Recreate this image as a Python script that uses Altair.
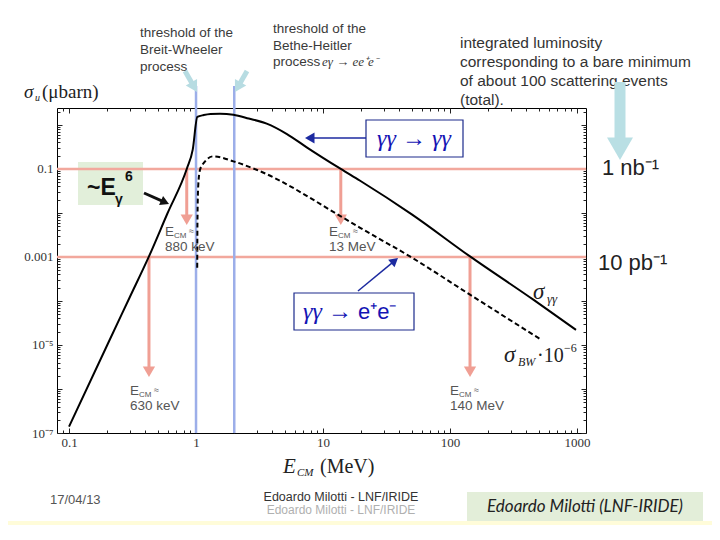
import math
import altair as alt
import pandas as pd

# ---------------- data ----------------
# sigma_gamma-gamma (micro-barn) vs E_CM (MeV)
gg_E = [0.1, 0.2, 0.3, 0.426, 0.594, 0.845, 0.942, 1.024, 1.15, 1.3, 1.545, 1.97, 2.6, 3.6, 5.2, 7.44, 13.8, 19.6, 50.0, 143.7, 453.0, 982.0]
gg_s = [1.4e-7, 1.0e-5, 1.2e-4, 1.03e-3, 9.6e-3, 0.1, 0.275, 1.52, 1.68, 1.78, 1.81, 1.71, 1.40, 1.07, 0.62, 0.31, 0.1, 0.054, 9.3e-3, 1.03e-3, 1.07e-4, 2.2e-5]
# sigma_BW * 1e-6
bw_E = [1.022, 1.026, 1.04, 1.075, 1.156, 1.37, 1.97, 3.0, 13.8, 19.6, 48.3, 143.7, 511.0]
bw_s = [5.7e-4, 6e-3, 0.04, 0.096, 0.139, 0.194, 0.149, 0.096, 8.4e-3, 4.6e-3, 1.03e-3, 1.39e-4, 1.37e-5]

lumi_levels = [0.1, 0.001]          # 1 nb^-1 and 10 pb^-1
threshold_E = [1.0, 2.0]            # Breit-Wheeler, Bethe-Heitler
arrow_E = [0.845, 13.8, 0.426, 143.7]
arrow_top = [0.1, 0.1, 0.001, 0.001]
arrow_head = [7.0e-3, 7.0e-3, 2.46e-6, 2.46e-6]

x_major = [0.1, 1, 10, 100, 1000]
x_minor = [m * 10.0 ** k for k in range(-2, 4) for m in range(2, 10) if 0.0804 <= m * 10.0 ** k <= 1177]
y_major = [10.0 ** k for k in range(-7, 1)]
y_minor = [m * 10.0 ** k for k in range(-7, 1) for m in range(2, 10) if m * 10.0 ** k <= 2.43]

# ---------------- helpers ----------------
OX, OY = 57, 108          # page position of the plot area
W, H = 529, 325
SERIF = "Liberation Serif"
SANS = "Liberation Sans"
CAL = "Lato"

xs = alt.Scale(type="log", domain=[0.0804, 1177], nice=False)
ys = alt.Scale(type="log", domain=[1e-7, 2.43], nice=False)

layers = []
one = pd.DataFrame({"a": [0]})


def px(X):
    return X - OX


def py(Y):
    return Y - OY


def text(X, Y, s, size=12, color="#333", font=SANS, style="normal", weight="normal",
         align="left", baseline="middle", lh=None):
    kw = dict(fontSize=size, color=color, font=font, fontStyle=style, fontWeight=weight,
              align=align, baseline=baseline, lineBreak="\n")
    if lh:
        kw["lineHeight"] = lh
    layers.append(alt.Chart(pd.DataFrame({"t": [s]})).mark_text(**kw).encode(
        x=alt.value(px(X)), y=alt.value(py(Y)), text="t:N"))


def rect(X1, Y1, X2, Y2, fill, stroke=None, sw=1):
    kw = dict(fill=fill)
    if stroke:
        kw.update(stroke=stroke, strokeWidth=sw)
    layers.append(alt.Chart(one).mark_rect(**kw).encode(
        x=alt.value(px(X1)), x2=alt.value(px(X2)), y=alt.value(py(Y1)), y2=alt.value(py(Y2))))


def arrow(X1, Y1, X2, Y2, color, width, head):
    dx, dy = X2 - X1, Y2 - Y1
    L = math.hypot(dx, dy)
    ux, uy = dx / L, dy / L
    h = head * 0.866
    cx, cy = X2 - ux * h * 0.5, Y2 - uy * h * 0.5
    ex, ey = X2 - ux * h * 0.7, Y2 - uy * h * 0.7
    layers.append(alt.Chart(one).mark_rule(color=color, strokeWidth=width).encode(
        x=alt.value(px(X1)), x2=alt.value(px(ex)), y=alt.value(py(Y1)), y2=alt.value(py(ey))))
    ang = math.degrees(math.atan2(dx, -dy)) % 360
    layers.append(alt.Chart(one).mark_point(shape="triangle-up", filled=True, color=color,
                                            opacity=1, size=head * head, angle=ang).encode(
        x=alt.value(px(cx)), y=alt.value(py(cy))))


# ---------------- background decorations ----------------
rect(8, 521, 712, 540, "#fffcd9")
rect(467, 492, 703, 521, "#e3eed9")
rect(78, 162, 143, 205, "#e2efda")

# ---------------- data layers ----------------
lvl = pd.DataFrame({"s": lumi_levels})
layers.append(alt.Chart(lvl).mark_rule(color="#f2a89d", strokeWidth=2.5).encode(
    y=alt.Y("s:Q", scale=ys, axis=None)))

thr = pd.DataFrame({"E": threshold_E})
layers.append(alt.Chart(thr).mark_rule(color="#9caee9", strokeWidth=2.5).encode(
    x=alt.X("E:Q", scale=xs, axis=None), y=alt.value(py(86)), y2=alt.value(H)))

arr = pd.DataFrame({"E": arrow_E, "top": arrow_top, "head": arrow_head})
layers.append(alt.Chart(arr).mark_rule(color="#f09f94", strokeWidth=3).encode(
    x=alt.X("E:Q", scale=xs, axis=None), y=alt.Y("top:Q", scale=ys, axis=None), y2="head:Q"))
layers.append(alt.Chart(arr).mark_point(shape="triangle-down", filled=True, color="#f09f94",
                                        opacity=1, size=150).encode(
    x=alt.X("E:Q", scale=xs, axis=None), y=alt.Y("head:Q", scale=ys, axis=None)))

gg = pd.DataFrame({"E": gg_E, "s": gg_s})
layers.append(alt.Chart(gg).mark_line(color="black", strokeWidth=2, interpolate="monotone").encode(
    x=alt.X("E:Q", scale=xs, axis=None), y=alt.Y("s:Q", scale=ys, axis=None)))
bw = pd.DataFrame({"E": bw_E, "s": bw_s})
layers.append(alt.Chart(bw).mark_line(color="black", strokeWidth=2, strokeDash=[5, 3],
                                      interpolate="monotone").encode(
    x=alt.X("E:Q", scale=xs, axis=None), y=alt.Y("s:Q", scale=ys, axis=None)))

# ---------------- axes (ticks inside, Mathematica style) ----------------
dummy = pd.DataFrame({"E": [1.0], "s": [0.1]})
common = dict(domain=False, grid=False, tickColor="#222", tickWidth=1, title=None,
              labelOverlap=False, labelFlush=False)
x_lab = "datum.value >= 1 ? format(datum.value, 'd') : format(datum.value, '.1f')"
e = "round(log(datum.value)/LN10)"
y_lab = (f"{e} == -1 ? '0.1' : {e} == -3 ? '0.001' : {e} == -5 ? '10⁻⁵' : "
         f"{e} == -7 ? '10⁻⁷' : ''")


def axlayer(xa, ya):
    return alt.Chart(dummy).mark_point(opacity=0).encode(
        x=alt.X("E:Q", scale=xs, axis=xa), y=alt.Y("s:Q", scale=ys, axis=ya))


layers.append(axlayer(
    alt.Axis(orient="bottom", values=x_major, tickSize=5, offset=-5, labelExpr=x_lab,
             labelFont=SERIF, labelFontSize=13, labelColor="#333", labelPadding=3, **common),
    alt.Axis(orient="left", values=y_major, tickSize=5, offset=-5, labelExpr=y_lab,
             labelFont=SERIF, labelFontSize=13, labelColor="#333", labelPadding=4, **common)))
layers.append(axlayer(
    alt.Axis(orient="bottom", values=x_minor, tickSize=3, offset=-3, labels=False, **common),
    alt.Axis(orient="left", values=y_minor, tickSize=3, offset=-3, labels=False, **common)))
layers.append(axlayer(
    alt.Axis(orient="top", values=x_major, tickSize=5, offset=-5, labels=False, **common),
    alt.Axis(orient="right", values=y_major, tickSize=5, offset=-5, labels=False, **common)))
layers.append(axlayer(
    alt.Axis(orient="top", values=x_minor, tickSize=3, offset=-3, labels=False, **common),
    alt.Axis(orient="right", values=y_minor, tickSize=3, offset=-3, labels=False, **common)))

# ---------------- axis titles ----------------
text(283, 473, "E", 21, "#222", SERIF, "italic", baseline="alphabetic")
text(297, 476, "CM", 11, "#222", SERIF, "italic", baseline="alphabetic")
text(320, 473, "(MeV)", 20, "#222", SERIF, baseline="alphabetic")
text(24, 98, "σ", 19, "#222", SERIF, "italic", baseline="alphabetic")
text(35, 101, "u", 10, "#222", SERIF, "italic", baseline="alphabetic")
text(42, 98, "(μbarn)", 19, "#222", SERIF, baseline="alphabetic")

# ---------------- E_CM annotations ----------------
for (X, Y, v) in [(165, 232, "880 keV"), (329, 232, "13 MeV"), (130, 391, "630 keV"), (450, 391, "140 MeV")]:
    text(X, Y, "E", 13.5, "#555")
    text(X + 9, Y + 4, "CM", 8, "#555")
    text(X + 24, Y - 1, "≈", 9, "#555")
    text(X, Y + 15, v, 13.5, "#555")

# ---------------- curve labels ----------------
text(533, 299, "σ", 23, "#222", SERIF, "italic", baseline="alphabetic")
text(547, 303, "γγ", 13, "#222", SERIF, "italic", baseline="alphabetic")
text(504, 362, "σ", 23, "#222", SERIF, "italic", baseline="alphabetic")
text(518, 366, "BW", 12, "#222", SERIF, "italic", baseline="alphabetic")
text(537, 362, "·10", 20, "#222", SERIF, baseline="alphabetic")
text(564, 352, "−6", 12, "#222", SERIF, baseline="alphabetic")

# ---------------- process boxes ----------------
rect(366, 120, 463, 157, "white", "#1c2a8c", 1.2)
text(414, 139, "γγ → γγ", 24, "#1414b4", SERIF, "italic", align="center")
arrow(366, 138, 305, 138, "#1c2aa0", 1.5, 11)
rect(294, 293, 414, 330, "white", "#1c2a8c", 1.2)
text(303, 312, "γγ →", 24, "#1414b4", SERIF, "italic")
text(358, 312, "e⁺e⁻", 22, "#1414b4", SANS)
arrow(358, 291, 398, 258, "#1c2aa0", 1.5, 10)

# ~E_gamma^6
text(87, 188, "~E", 23, "#111", SANS, weight="bold")
text(115, 200, "γ", 14, "#111", SANS, weight="bold")
text(125, 177, "6", 14, "#111", SANS, weight="bold")
arrow(144, 193, 169, 204, "#111", 3, 10)

# ---------------- luminosity labels ----------------
text(602, 168, "1 nb⁻¹", 22, "#222", SANS)
text(598, 263, "10 pb⁻¹", 22, "#222", SANS)

# ---------------- top notes ----------------
text(140, 33, "threshold of the\nBreit-Wheeler\nprocess", 13.5, "#3a3a3a", SANS, lh=17, baseline="middle")
text(273, 29, "threshold of the\nBethe-Heitler", 13.5, "#3a3a3a", SANS, lh=17)
text(273, 62, "process", 13.5, "#3a3a3a", SANS)
text(322, 62, "eγ → ee⁺e⁻", 13, "#3a3a3a", SERIF, "italic")
text(460, 43, "integrated luminosity\ncorresponding to a bare minimum\nof about 100 scattering events\n(total).",
     15.5, "#333", SANS, lh=19)

arrow(185, 71, 197, 92, "#b7dce2", 5, 13)
arrow(247, 71, 235, 92, "#b7dce2", 5, 13)
arrow(620, 82, 620, 160, "#b9dfe4", 11, 26)

# ---------------- footer ----------------
text(50, 500, "17/04/13", 13, "#555", SANS)
text(341, 497, "Edoardo Milotti - LNF/IRIDE", 12.5, "#333", SANS, align="center")
text(341, 510, "Edoardo Milotti - LNF/IRIDE", 12, "#b0b0b0", SANS, align="center")
text(585, 507, "Edoardo Milotti (LNF-IRIDE)", 17, "#222", CAL, "italic", align="center")

chart = alt.layer(*layers).properties(
    width=W, height=H,
    padding={"left": 49, "top": 100, "right": 126, "bottom": 92},
    autosize=alt.AutoSizeParams(type="none"),
).resolve_axis(x="independent", y="independent").configure(
    background="white").configure_view(stroke="black", strokeWidth=1)

chart.save("out.html", embed_options={"renderer": "svg", "actions": False})
